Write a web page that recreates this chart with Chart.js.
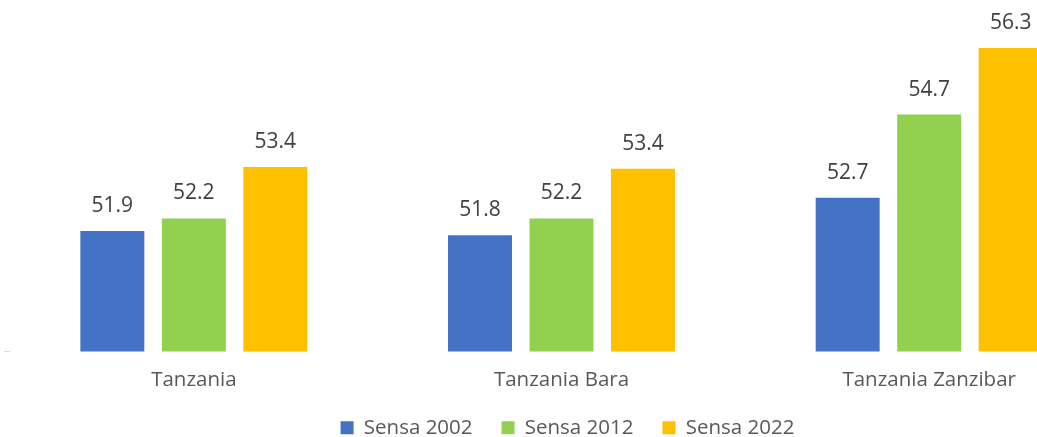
<!DOCTYPE html>
<html lang="sw">
<head>
  <meta charset="UTF-8">
  <title>Sensa</title>
  <script src="https://cdn.jsdelivr.net/npm/chart.js"></script>
  <style>
    body {
      margin: 0;
      background: #fff;
      overflow: hidden;
    }
    #wrap {
      width: 1131px;
      height: 448px;
    }
  </style>
</head>
<body>
<div id="wrap"><canvas id="chart" width="1131" height="448"></canvas></div>

<script>
  // data
  const categories = ['Tanzania', 'Tanzania Bara', 'Tanzania Zanzibar'];
  const seriesNames = ['Sensa 2002', 'Sensa 2012', 'Sensa 2022'];
  const sensa2002 = [51.9, 51.8, 52.7];
  const sensa2012 = [52.2, 52.2, 54.7];
  const sensa2022 = [53.44, 53.4, 56.3];
  const yMin = 49;
  const yMax = 57;

  const colors = ['#4472C4', '#92D050', '#FFC000'];
  const FONT = "'Open Sans', 'Noto Sans', sans-serif";

  // value labels above each bar
  const valueLabels = {
    id: 'valueLabels',
    afterDatasetsDraw(chart) {
      const ctx = chart.ctx;
      ctx.save();
      ctx.font = '21px ' + FONT;
      ctx.fillStyle = '#404040';
      ctx.textAlign = 'center';
      ctx.textBaseline = 'middle';
      chart.data.datasets.forEach((ds, i) => {
        chart.getDatasetMeta(i).data.forEach((bar, j) => {
          ctx.fillText(ds.data[j].toFixed(1), bar.x, bar.y - 25);
        });
      });
      ctx.restore();
    }
  };

  const series = [sensa2002, sensa2012, sensa2022];

  new Chart(document.getElementById('chart'), {
    type: 'bar',
    data: {
      labels: categories,
      datasets: series.map((d, i) => ({
        label: seriesNames[i],
        data: d,
        backgroundColor: colors[i],
        borderWidth: 0,
        categoryPercentage: 0.665,
        barPercentage: 0.785
      }))
    },
    options: {
      responsive: false,
      animation: false,
      layout: { padding: { top: 19, left: 4, right: 0, bottom: 0 } },
      plugins: {
        tooltip: { enabled: false },
        legend: {
          position: 'bottom',
          labels: {
            boxWidth: 13,
            boxHeight: 13,
            padding: 29,
            color: '#595959',
            font: { family: FONT, size: 20.5 }
          }
        }
      },
      scales: {
        x: {
          grid: { display: false, drawTicks: false },
          border: { display: false },
          ticks: {
            color: '#595959',
            padding: 16,
            font: { family: FONT, size: 20.5 }
          },
          // keep the legend close under the category labels
          afterFit: s => { s.height = 37; }
        },
        y: {
          min: yMin,
          max: yMax,
          ticks: { display: false, stepSize: 1 },
          border: { display: false },
          grid: {
            drawOnChartArea: false,
            tickLength: 6,
            color: c => c.tick && c.tick.value === yMin ? '#d9d9d9' : 'rgba(0,0,0,0)'
          }
        },
        yRight: {
          position: 'right',
          grid: { display: false },
          border: { display: false },
          ticks: { display: false },
          afterFit: s => { s.width = 18; }
        }
      }
    },
    plugins: [valueLabels]
  });
</script>
</body>
</html>
